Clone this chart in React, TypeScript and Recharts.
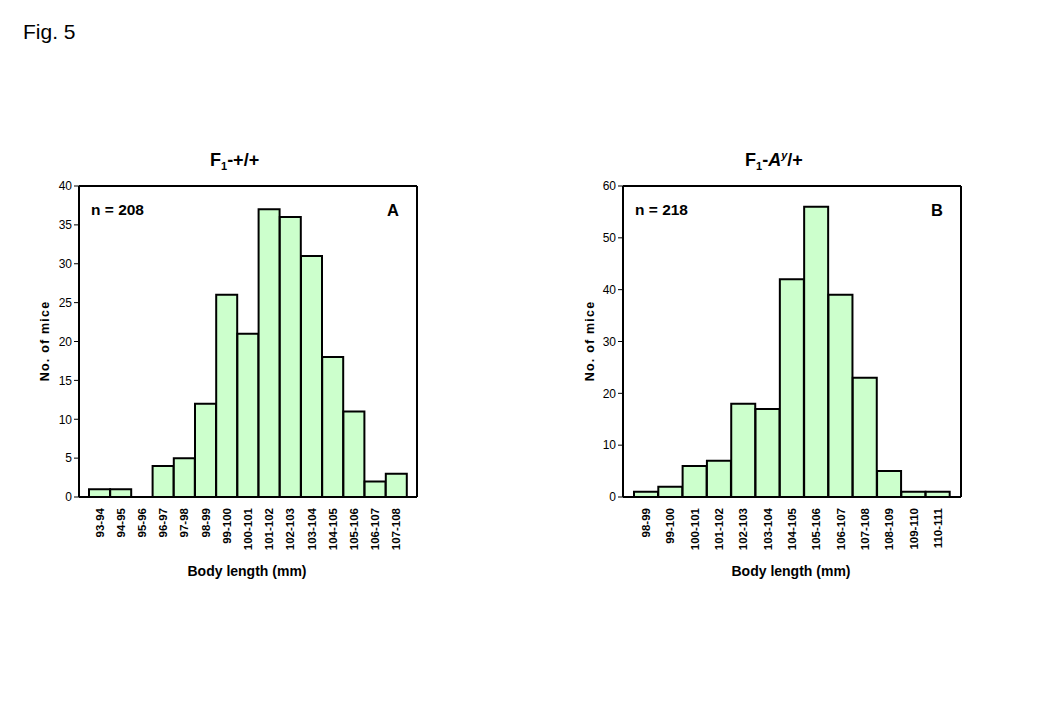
import { BarChart, Bar, XAxis, YAxis, CartesianGrid } from "recharts";

const FONT = "Arial, 'Liberation Sans', Helvetica, sans-serif";

const rangesA = [
  "93-94", "94-95", "95-96", "96-97", "97-98", "98-99", "99-100", "100-101",
  "101-102", "102-103", "103-104", "104-105", "105-106", "106-107", "107-108",
];
const miceA = [1, 1, 0, 4, 5, 12, 26, 21, 37, 36, 31, 18, 11, 2, 3];
const ticksA = [0, 5, 10, 15, 20, 25, 30, 35, 40];

const rangesB = [
  "98-99", "99-100", "100-101", "101-102", "102-103", "103-104", "104-105",
  "105-106", "106-107", "107-108", "108-109", "109-110", "110-111",
];
const miceB = [1, 2, 6, 7, 18, 17, 42, 56, 39, 23, 5, 1, 1];
const ticksB = [0, 10, 20, 30, 40, 50, 60];

const dataA = rangesA.map((r, i) => ({ range: r, mice: miceA[i] }));
const dataB = rangesB.map((r, i) => ({ range: r, mice: miceB[i] }));

function RotatedTick({ x, y, payload }: { x?: number; y?: number; payload?: { value: string } }) {
  return (
    <text
      transform={`translate(${x},${(y ?? 0) + 3}) rotate(-90)`}
      textAnchor="end"
      dy="0.35em"
      fontSize={11.5}
      fontWeight="bold"
      fontFamily={FONT}
      fill="#000"
    >
      {payload?.value}
    </text>
  );
}

interface HistProps {
  data: { range: string; mice: number }[];
  ticks: number[];
  pad: number;
}

// plot frame: top and right edges drawn as grid lines on the plot area border
const topEdge = ({ offset }: any) => [offset.top];
const rightEdge = ({ offset }: any) => [offset.left + offset.width];

function Histogram({ data, ticks, pad }: HistProps) {
  const frame = { stroke: "#000", strokeWidth: 2 };
  return (
    <BarChart
      width={456}
      height={600}
      data={data}
      barCategoryGap={0}
      margin={{ top: 186, left: 39, right: 39, bottom: 43 }}
    >
      <CartesianGrid
        stroke="#000"
        strokeWidth={2}
        horizontalCoordinatesGenerator={topEdge}
        verticalCoordinatesGenerator={rightEdge}
      />
      <XAxis
        dataKey="range"
        interval={0}
        height={60}
        padding={{ left: pad, right: pad }}
        axisLine={frame}
        tickLine={false}
        tick={<RotatedTick />}
      />
      <YAxis
        domain={[ticks[0], ticks[ticks.length - 1]]}
        ticks={ticks}
        width={40}
        interval={0}
        axisLine={frame}
        tickLine={{ stroke: "#000", strokeWidth: 1 }}
        tickSize={5}
        tick={{ fill: "#000", fontSize: 12, fontFamily: FONT }}
      />
      <Bar dataKey="mice" fill="#ccffcc" stroke="#000" strokeWidth={2} isAnimationActive={false} />
    </BarChart>
  );
}

export default function App() {
  const bold = { fontFamily: FONT, fontWeight: "bold" as const, fill: "#000" };
  return (
    <div style={{ position: "absolute", left: 0, top: 0, width: 1040, height: 720, background: "#fff" }}>
      <div style={{ position: "absolute", left: 0, top: 0 }}>
        <Histogram data={dataA} ticks={ticksA} pad={10} />
      </div>
      <div style={{ position: "absolute", left: 544, top: 0 }}>
        <Histogram data={dataB} ticks={ticksB} pad={11} />
      </div>
      <svg width={1040} height={720} style={{ position: "absolute", left: 0, top: 0, pointerEvents: "none" }}>
        <text x={23} y={39} fontFamily={FONT} fontSize={21} fill="#000">Fig. 5</text>

        <text x={210} y={166} fontSize={18} {...bold}>
          F<tspan fontSize={11} dy={4}>1</tspan><tspan dy={-4}>-+/+</tspan>
        </text>
        <text x={745} y={166} fontSize={18} {...bold}>
          F<tspan fontSize={11} dy={4}>1</tspan><tspan dy={-4}>-</tspan>
          <tspan fontStyle="italic">A</tspan>
          <tspan fontSize={11} fontStyle="italic" dy={-7}>y</tspan>
          <tspan dy={7}>/+</tspan>
        </text>

        <text x={91} y={215} fontSize={15.5} {...bold}>n = 208</text>
        <text x={387} y={216} fontSize={16.5} {...bold}>A</text>
        <text x={635} y={215} fontSize={15.5} {...bold}>n = 218</text>
        <text x={931} y={216} fontSize={16.5} {...bold}>B</text>

        <text x={247} y={576} fontSize={14} textAnchor="middle" {...bold}>Body length (mm)</text>
        <text x={791} y={576} fontSize={14} textAnchor="middle" {...bold}>Body length (mm)</text>

        <text transform="translate(49,341) rotate(-90)" fontSize={12.5} letterSpacing={1.2} textAnchor="middle" {...bold}>No. of mice</text>
        <text transform="translate(594,341) rotate(-90)" fontSize={12.5} letterSpacing={1.2} textAnchor="middle" {...bold}>No. of mice</text>
      </svg>
    </div>
  );
}
